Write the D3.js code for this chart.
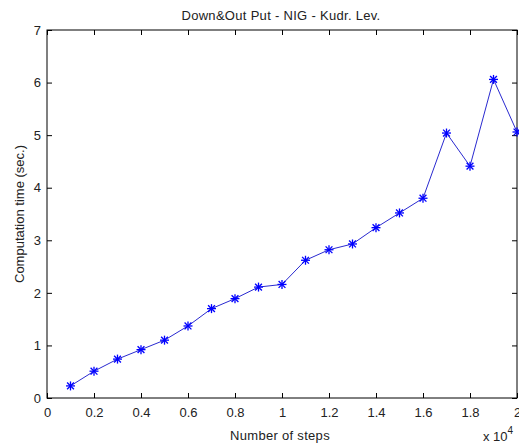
<!DOCTYPE html>
<html>
<head>
<meta charset="utf-8">
<script src="https://cdn.jsdelivr.net/npm/d3@7"></script>
<style>
  body { margin: 0; background: #fff; }
  svg { display: block; font-family: "Liberation Sans", Arial, sans-serif; }
</style>
</head>
<body>
<svg id="chart" width="519" height="447"></svg>
<script>
// Number of steps (x 10^4) and computation time in seconds
const steps = [0.1, 0.2, 0.3, 0.4, 0.5, 0.6, 0.7, 0.8, 0.9, 1.0,
               1.1, 1.2, 1.3, 1.4, 1.5, 1.6, 1.7, 1.8, 1.9, 2.0];
const times = [0.23, 0.51, 0.74, 0.92, 1.10, 1.37, 1.70, 1.89, 2.11, 2.16,
               2.62, 2.82, 2.93, 3.24, 3.52, 3.80, 5.04, 4.41, 6.06, 5.06];
const xTicks = [0, 0.2, 0.4, 0.6, 0.8, 1, 1.2, 1.4, 1.6, 1.8, 2];
const yTicks = [0, 1, 2, 3, 4, 5, 6, 7];

const svg = d3.select("#chart");
const plotL = 47, plotR = 517, plotT = 30, plotB = 398;
const fontSize = "13px";

const x = d3.scaleLinear().domain([0, 2]).range([plotL, plotR]);
const y = d3.scaleLinear().domain([0, 7]).range([plotB, plotT]);

const tickLen = 5;
const fmt = d => String(d);

// Axes box with ticks pointing inward on all four sides
svg.append("rect")
  .attr("x", plotL).attr("y", plotT)
  .attr("width", plotR - plotL).attr("height", plotB - plotT)
  .attr("fill", "#fff").attr("stroke", "#000").attr("stroke-width", 1);

const xb = svg.append("g").attr("transform", `translate(0,${plotB})`)
  .call(d3.axisBottom(x).tickValues(xTicks).tickFormat(fmt).tickSizeInner(-tickLen).tickSizeOuter(0).tickPadding(10));
const xt = svg.append("g").attr("transform", `translate(0,${plotT})`)
  .call(d3.axisTop(x).tickValues(xTicks).tickFormat("").tickSizeInner(-tickLen).tickSizeOuter(0));
const yl = svg.append("g").attr("transform", `translate(${plotL},0)`)
  .call(d3.axisLeft(y).tickValues(yTicks).tickFormat(fmt).tickSizeInner(-tickLen).tickSizeOuter(0).tickPadding(6));
const yr = svg.append("g").attr("transform", `translate(${plotR},0)`)
  .call(d3.axisRight(y).tickValues(yTicks).tickFormat("").tickSizeInner(-tickLen).tickSizeOuter(0));

[xb, xt, yl, yr].forEach(a => {
  a.select(".domain").remove();
  a.selectAll("line").attr("stroke", "#000");
  a.selectAll("text").attr("fill", "#222")
    .style("font-family", "'Liberation Sans', Arial, sans-serif").style("font-size", fontSize);
});

// Data line and star markers
const pts = steps.map((s, i) => [s, times[i]]);
svg.append("path")
  .datum(pts)
  .attr("fill", "none")
  .attr("stroke", "#2a2ad0")
  .attr("stroke-width", 1)
  .attr("d", d3.line().x(d => x(d[0])).y(d => y(d[1])));

const star = svg.append("g").attr("stroke", "#0000ff").attr("stroke-width", 1.3);
pts.forEach(d => {
  const cx = x(d[0]), cy = y(d[1]), r = 4.5, rd = 3.4;
  star.append("line").attr("x1", cx - r).attr("x2", cx + r).attr("y1", cy).attr("y2", cy);
  star.append("line").attr("x1", cx).attr("x2", cx).attr("y1", cy - r).attr("y2", cy + r);
  star.append("line").attr("x1", cx - rd).attr("x2", cx + rd).attr("y1", cy - rd).attr("y2", cy + rd);
  star.append("line").attr("x1", cx - rd).attr("x2", cx + rd).attr("y1", cy + rd).attr("y2", cy - rd);
});

// Title and axis labels
svg.append("text")
  .attr("x", 281).attr("y", 20)
  .attr("text-anchor", "middle").attr("fill", "#222").style("font-size", fontSize)
  .style("letter-spacing", "0.3px")
  .text("Down&Out Put - NIG - Kudr. Lev.");

svg.append("text")
  .attr("x", 280).attr("y", 440)
  .attr("text-anchor", "middle").attr("fill", "#222").style("font-size", fontSize)
  .style("letter-spacing", "0.3px")
  .text("Number of steps");

svg.append("text")
  .attr("transform", `translate(24,${(plotT + plotB) / 2}) rotate(-90)`)
  .attr("text-anchor", "middle").attr("fill", "#222").style("font-size", fontSize)
  .text("Computation time (sec.)");

const exp = svg.append("text")
  .attr("x", 483).attr("y", 441).attr("fill", "#222").style("font-size", fontSize);
exp.append("tspan").text("x 10");
exp.append("tspan").attr("dy", -7).style("font-size", "10px").text("4");
</script>
</body>
</html>
